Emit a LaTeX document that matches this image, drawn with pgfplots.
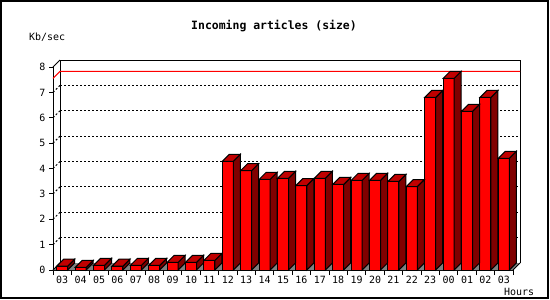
\documentclass[border=0pt]{standalone}
\usepackage{pgfplots}
\pgfplotsset{compat=1.18}
\usepackage{pgfplotstable}
\usepackage{fontspec}
\setmainfont{DejaVu Sans Mono}
\definecolor{barfront}{RGB}{255,0,0}
\definecolor{barside}{RGB}{128,0,0}
\definecolor{bartop}{RGB}{192,0,0}
\definecolor{floorgray}{RGB}{128,128,128}
\pgfdeclareplotmark{empty}{}
\pgfplotstableread{
x v
0 0.15
1 0.10
2 0.18
3 0.15
4 0.18
5 0.18
6 0.30
7 0.30
8 0.38
9 4.28
10 3.92
11 3.57
12 3.61
13 3.33
14 3.61
15 3.37
16 3.53
17 3.53
18 3.49
19 3.29
20 6.80
21 7.55
22 6.25
23 6.80
24 4.40
}\data
\begin{document}
\begin{tikzpicture}
\path[use as bounding box] (0bp,0bp) rectangle (550bp,-300bp);
\draw[line width=2bp] (1bp,-1bp) rectangle (548bp,-298bp);
\node[font=\bfseries\fontsize{11.5}{13}\selectfont, inner sep=0pt] at (274bp,-26.5bp) {Incoming articles (size)};
\node[anchor=west, font=\fontsize{10}{12}\selectfont, inner sep=0pt] at (29bp,-37bp) {Kb/sec};
\node[font=\fontsize{10}{12}\selectfont, inner sep=0pt] at (519bp,-292bp) {Hours};
\begin{axis}[
  at={(53bp,-270bp)}, anchor=south west,
  x=18.4bp, y=25.375bp,
  xmin=-0.5, xmax=24.5, ymin=0, ymax=8,
  axis x line=bottom, axis y line=left,
  axis line style={line width=1bp, -},
  clip=false,
  /pgf/number format/assume math mode=true,
  tick label style={font=\fontsize{10}{12}\selectfont},
  ytick={0,...,8},
  xtick={0,...,24},
  xticklabels={03,04,05,06,07,08,09,10,11,12,13,14,15,16,17,18,19,20,21,22,23,00,01,02,03},
  minor xtick={-0.5,0.5,...,24.5},
  tick align=outside,
  major tick length=4bp, minor tick length=5bp,
  major x tick style={draw=none},
  every tick/.style={line width=1bp, black},
  minor x tick style={line width=1bp, black},
  yticklabel style={anchor=east, inner sep=0pt, xshift=-3.5bp},
  xticklabel style={anchor=north, inner sep=0pt, yshift=-2bp},
]
% floor
\fill[floorgray] (axis cs:-0.5,0) -- (axis cs:24.5,0) -- ([shift={(7bp,7bp)}]axis cs:24.5,0) -- ([shift={(7bp,7bp)}]axis cs:-0.5,0) -- cycle;
% grid
\pgfplotsinvokeforeach{1,...,7}{
  \draw[line width=1bp, dash pattern=on 2bp off 2bp] (axis cs:-0.5,#1) -- ([shift={(7bp,7bp)}]axis cs:-0.5,#1);
  \draw[line width=1bp, dash pattern=on 2bp off 2bp] ([shift={(7bp,7bp)}]axis cs:-0.5,#1) -- ([shift={(7bp,7bp)}]axis cs:24.5,#1);
}
% back plane
\draw[line width=1bp] ([shift={(7bp,7bp)}]axis cs:-0.5,0) -- ([shift={(7bp,7bp)}]axis cs:-0.5,8) -- ([shift={(7bp,7bp)}]axis cs:24.5,8) -- ([shift={(7bp,7bp)}]axis cs:24.5,0);
\draw[line width=1bp] (axis cs:-0.5,8) -- ([shift={(7bp,7bp)}]axis cs:-0.5,8);
\draw[line width=1bp] (axis cs:-0.5,0) -- ([shift={(7bp,7bp)}]axis cs:-0.5,0);
\draw[line width=1bp] (axis cs:24.5,0) -- ([shift={(7bp,7bp)}]axis cs:24.5,0);
% max line
\draw[line width=1bp, red] (axis cs:-0.5,7.55) -- ([shift={(7bp,7bp)}]axis cs:-0.5,7.55) -- ([shift={(7bp,7bp)}]axis cs:24.5,7.55);
% bars
\addplot[ybar, bar width=11bp, fill=barfront, draw=black, line width=1bp] table[x=x,y=v] {\data};
\addplot[only marks, mark=empty, scatter,
  visualization depends on={rawy \as \rawy},
  scatter/@pre marker code/.code={
    \pgfmathsetmacro\h{\rawy*25.375}
    \filldraw[fill=barside, draw=black, line width=1bp, line join=miter] (5.5bp,0bp) -- (12.5bp,7bp) -- (12.5bp,{(7-\h)*1bp}) -- (5.5bp,{-\h*1bp}) -- cycle;
    \filldraw[fill=bartop, draw=black, line width=1bp, line join=miter] (-5.5bp,0bp) -- (5.5bp,0bp) -- (12.5bp,7bp) -- (1.5bp,7bp) -- cycle;
  },
  scatter/@post marker code/.code={}
] table[x=x,y=v] {\data};
\end{axis}
\end{tikzpicture}
\end{document}
